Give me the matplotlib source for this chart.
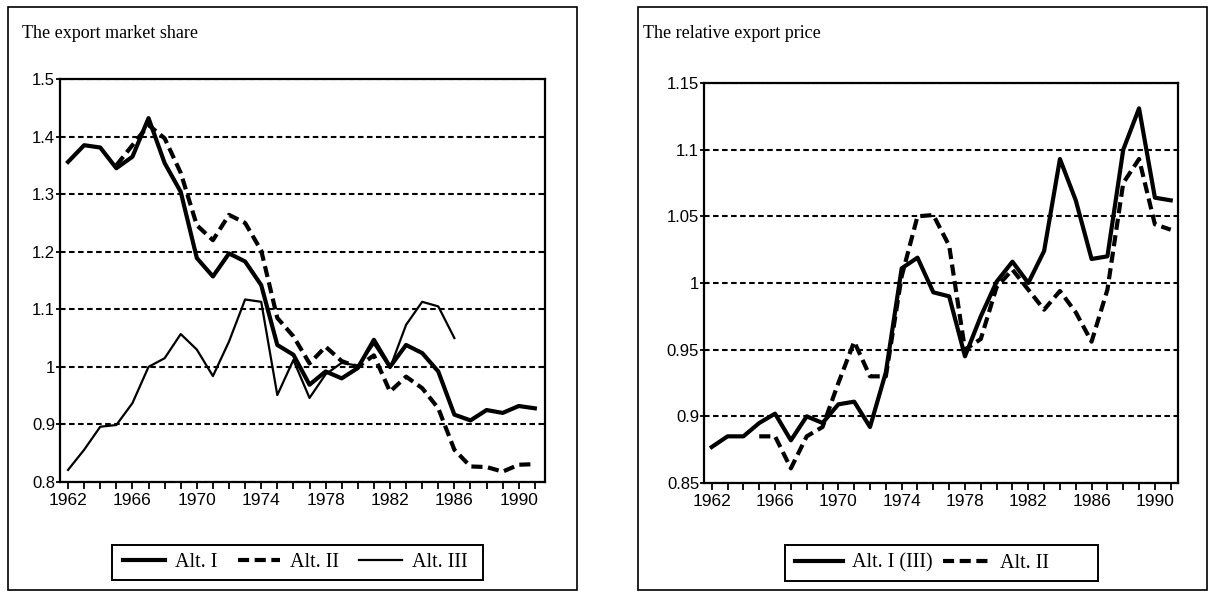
import matplotlib
matplotlib.use('Agg')
import matplotlib.pyplot as plt
import numpy as np
from matplotlib.patches import Rectangle
from matplotlib.ticker import FixedLocator, MultipleLocator, FuncFormatter

plt.rcParams['lines.scale_dashes'] = False

# ---- data ----
years = np.arange(1962, 1992)
label_years = [1962, 1966, 1970, 1974, 1978, 1982, 1986, 1990]

share_alt1 = [1.356, 1.385, 1.381, 1.345, 1.365, 1.432, 1.354, 1.304, 1.189, 1.157,
              1.197, 1.183, 1.142, 1.038, 1.021, 0.969, 0.992, 0.980, 0.998, 1.047,
              1.000, 1.038, 1.024, 0.992, 0.917, 0.907, 0.925, 0.920, 0.932, 0.928]
share_alt2 = [np.nan, np.nan, np.nan, 1.350, 1.385, 1.420, 1.397, 1.337, 1.246, 1.220,
              1.264, 1.250, 1.202, 1.085, 1.053, 1.006, 1.035, 1.010, 1.000, 1.020,
              0.957, 0.983, 0.963, 0.928, 0.856, 0.827, 0.826, 0.818, 0.830, 0.831]
share_alt3 = [0.821, 0.856, 0.896, 0.899, 0.937, 1.000, 1.015, 1.057, 1.030, 0.984,
              1.044, 1.117, 1.113, 0.951, 1.012, 0.946, 0.987, 1.007, 1.002, 1.040,
              0.998, 1.073, 1.113, 1.105, 1.050, np.nan, np.nan, np.nan, np.nan, np.nan]

price_alt1 = [0.877, 0.885, 0.885, 0.895, 0.902, 0.882, 0.900, 0.895, 0.909, 0.911,
              0.892, 0.933, 1.011, 1.019, 0.993, 0.990, 0.945, 0.975, 1.001, 1.016,
              1.000, 1.024, 1.093, 1.062, 1.018, 1.020, 1.100, 1.131, 1.064, 1.062]
price_alt2 = [np.nan, np.nan, np.nan, 0.885, 0.885, 0.861, 0.885, 0.892, 0.925, 0.956,
              0.930, 0.930, 1.005, 1.050, 1.051, 1.028, 0.950, 0.958, 0.997, 1.010,
              0.995, 0.980, 0.994, 0.978, 0.956, 0.995, 1.075, 1.093, 1.044, 1.040]

W, H = 1213, 599
fig = plt.figure(figsize=(W / 100, H / 100), dpi=100)

serif = 'Liberation Serif'
sans = 'Liberation Sans'
dash_big = (0, (8, 4))
dash_grid = (0, (4, 2.5))


def px(x0, y0, x1, y1):  # pixel box -> figure fraction rect
    return [x0 / W, 1 - y1 / H, (x1 - x0) / W, (y1 - y0) / H]


def box(x0, y0, x1, y1, lw):
    r = px(x0, y0, x1, y1)
    fig.add_artist(Rectangle((r[0], r[1]), r[2], r[3], transform=fig.transFigure,
                             fill=False, ec='black', lw=lw))


def drawpanel(rect, xlim, ylim, ystep):
    ax = fig.add_axes(rect)
    ax.set_xlim(*xlim)
    ax.set_ylim(*ylim)
    ax.xaxis.set_major_locator(FixedLocator(label_years))
    ax.xaxis.set_minor_locator(MultipleLocator(1))
    ax.yaxis.set_major_locator(MultipleLocator(ystep))
    ax.yaxis.set_major_formatter(FuncFormatter(lambda v, p: '%g' % round(v, 3)))
    ax.tick_params(axis='x', which='both', direction='out', length=5, width=1.3,
                   pad=3, labelsize=12.5)
    ax.tick_params(axis='y', direction='out', length=3, width=1.3, pad=0.5,
                   labelsize=12)
    for lab in ax.get_xticklabels() + ax.get_yticklabels():
        lab.set_family(sans)
    for s in ax.spines.values():
        s.set_linewidth(1.6)
        s.set_color('black')
    ax.yaxis.grid(True, linestyle=dash_grid, color='black', lw=1.5)
    ax.set_axisbelow(True)
    return ax


def legend(handles, ncol, x_left, y_mid, hl, htp, cs):
    fig.legend(handles=handles, loc='center left', ncol=ncol,
               bbox_to_anchor=(x_left / W, 1 - y_mid / H),
               prop={'family': serif, 'size': 14.5}, frameon=False,
               handlelength=hl, handletextpad=htp, columnspacing=cs,
               borderpad=0, borderaxespad=0)


# frames round the two panels
box(8, 7, 577, 590, 1.2)
box(638, 7, 1207, 590, 1.2)

# ---- left panel ----
ax1 = drawpanel(px(60, 79, 545, 482), (1961.5, 1991.63), (0.8, 1.5), 0.1)
ax1.plot(years, share_alt1, color='black', lw=3, label='Alt. I')
ax1.plot(years, share_alt2, color='black', lw=3, linestyle=dash_big, label='Alt. II')
ax1.plot(years, share_alt3, color='black', lw=1.6, label='Alt. III')
fig.text(22 / W, 1 - 34 / H, 'The export market share', family=serif, fontsize=13,
         va='center', ha='left')
box(112, 545, 483, 580, 1.4)
legend(ax1.get_lines(), 3, 123, 562.5, 2.1, 0.5, 1.0)

# ---- right panel ----
ax2 = drawpanel(px(704, 83, 1178, 483), (1961.51, 1991.46), (0.85, 1.15), 0.05)
ax2.plot(years, price_alt1, color='black', lw=3, label='Alt. I (III)')
ax2.plot(years, price_alt2, color='black', lw=3, linestyle=dash_big, label='Alt. II')
fig.text(643 / W, 1 - 34 / H, 'The relative export price', family=serif, fontsize=13,
         va='center', ha='left')
box(785, 545, 1098, 581, 1.4)
legend(ax2.get_lines(), 2, 795, 563, 2.4, 0.45, 0.5)

plt.savefig('out.png', dpi=100)
